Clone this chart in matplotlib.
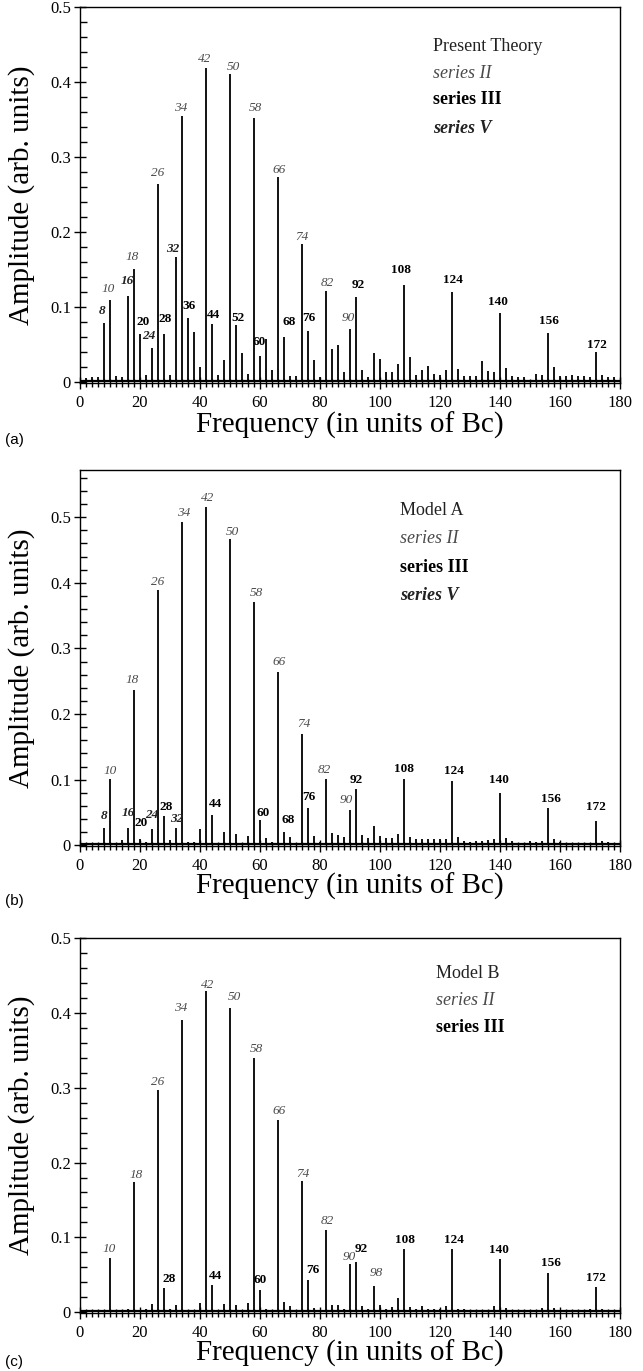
import numpy as np
import matplotlib
matplotlib.use("Agg")
import matplotlib.pyplot as plt
from matplotlib.ticker import MultipleLocator

plt.rcParams['font.family'] = ['Liberation Serif', 'DejaVu Serif']

# ---------------- data ----------------
freqs = list(range(2, 180, 2))

amps_a = [0.006, 0.007, 0.007, 0.079, 0.109, 0.008, 0.007, 0.115, 0.151, 0.064,
          0.009, 0.045, 0.264, 0.064, 0.009, 0.167, 0.355, 0.086, 0.067, 0.020,
          0.419, 0.077, 0.010, 0.029, 0.411, 0.076, 0.039, 0.011, 0.352, 0.035,
          0.057, 0.016, 0.273, 0.060, 0.008, 0.008, 0.184, 0.068, 0.029, 0.007,
          0.121, 0.044, 0.049, 0.013, 0.071, 0.113, 0.016, 0.007, 0.039, 0.031,
          0.013, 0.013, 0.024, 0.130, 0.034, 0.010, 0.016, 0.021, 0.011, 0.009,
          0.016, 0.120, 0.018, 0.008, 0.008, 0.008, 0.028, 0.015, 0.013, 0.092,
          0.019, 0.008, 0.007, 0.007, 0.003, 0.011, 0.009, 0.066, 0.020, 0.008,
          0.008, 0.009, 0.008, 0.008, 0.007, 0.040, 0.009, 0.007, 0.007]

amps_b = [0.003, 0.003, 0.002, 0.026, 0.101, 0.002, 0.008, 0.026, 0.236, 0.009,
          0.005, 0.025, 0.389, 0.045, 0.008, 0.026, 0.492, 0.005, 0.005, 0.025,
          0.516, 0.047, 0.003, 0.020, 0.467, 0.017, 0.003, 0.014, 0.371, 0.039,
          0.011, 0.005, 0.264, 0.021, 0.013, 0.004, 0.169, 0.057, 0.015, 0.005,
          0.101, 0.019, 0.016, 0.012, 0.054, 0.086, 0.016, 0.011, 0.029, 0.015,
          0.011, 0.011, 0.017, 0.101, 0.012, 0.009, 0.010, 0.010, 0.009, 0.009,
          0.010, 0.098, 0.012, 0.007, 0.005, 0.006, 0.007, 0.008, 0.010, 0.080,
          0.011, 0.006, 0.004, 0.004, 0.007, 0.005, 0.007, 0.057, 0.010, 0.005,
          0.004, 0.004, 0.004, 0.004, 0.004, 0.037, 0.007, 0.005, 0.004]

amps_c = [0.002, 0.002, 0.002, 0.002, 0.073, 0.002, 0.002, 0.004, 0.174, 0.002,
          0.004, 0.011, 0.297, 0.033, 0.004, 0.010, 0.391, 0.003, 0.003, 0.013,
          0.429, 0.037, 0.003, 0.011, 0.407, 0.010, 0.003, 0.012, 0.340, 0.030,
          0.004, 0.003, 0.257, 0.014, 0.009, 0.003, 0.175, 0.043, 0.006, 0.003,
          0.110, 0.010, 0.010, 0.005, 0.064, 0.067, 0.009, 0.005, 0.035, 0.010,
          0.005, 0.007, 0.019, 0.084, 0.007, 0.004, 0.009, 0.005, 0.004, 0.005,
          0.009, 0.084, 0.005, 0.004, 0.003, 0.003, 0.003, 0.003, 0.008, 0.071,
          0.006, 0.003, 0.002, 0.002, 0.002, 0.002, 0.006, 0.053, 0.006, 0.002,
          0.002, 0.002, 0.002, 0.002, 0.005, 0.034, 0.004, 0.002, 0.002]

# labelled peaks per series
series2_a = [10, 18, 26, 34, 42, 50, 58, 66, 74, 82, 90]
series3_a = [20, 28, 36, 44, 52, 60, 68, 76, 92, 108, 124, 140, 156, 172]
series5_a = [8, 16, 24, 32]

series2_b = [10, 18, 26, 34, 42, 50, 58, 66, 74, 82, 90]
series3_b = [20, 28, 44, 60, 68, 76, 92, 108, 124, 140, 156, 172]
series5_b = [8, 16, 24, 32]

series2_c = [10, 18, 26, 34, 42, 50, 58, 66, 74, 82, 90, 98]
series3_c = [28, 44, 60, 76, 92, 108, 124, 140, 156, 172]
series5_c = []

legend_a = ["Present Theory", "series II", "series III", "series V"]
legend_b = ["Model A", "series II", "series III", "series V"]
legend_c = ["Model B", "series II", "series III"]

xticks = [0, 20, 40, 60, 80, 100, 120, 140, 160, 180]

# ---------------- layout (label offsets: dx, dy) ----------------
off_a = {8: (-0.6, 0.016), 10: (-0.5, 0.015), 16: (-0.3, 0.020), 18: (-0.5, 0.016),
         20: (0.9, 0.016), 24: (-1.1, 0.017), 26: (-0.2, 0.015), 28: (0.3, 0.020),
         32: (-1.0, 0.011), 34: (-0.5, 0.011), 36: (0.4, 0.015), 42: (-0.4, 0.012),
         44: (0.4, 0.012), 50: (1.3, 0.009), 52: (0.8, 0.009), 58: (0.6, 0.013),
         60: (-0.2, 0.018), 66: (0.2, 0.010), 68: (1.6, 0.020), 74: (0.1, 0.010),
         76: (0.3, 0.018), 82: (0.4, 0.011), 90: (-0.7, 0.015), 92: (0.8, 0.016),
         108: (-1.1, 0.019), 124: (0.2, 0.016), 140: (-0.8, 0.015), 156: (0.3, 0.015),
         172: (0.3, 0.009)}
off_b = {8: (0.1, 0.018), 10: (0.0, 0.013), 16: (0.1, 0.023), 20: (0.5, 0.025),
         24: (0.0, 0.021), 28: (0.6, 0.014), 32: (0.3, 0.014), 18: (-0.5, 0.016),
         26: (0.0, 0.013), 34: (0.6, 0.014), 42: (0.4, 0.014), 50: (0.8, 0.011),
         58: (0.7, 0.013), 66: (0.2, 0.015), 74: (0.5, 0.016), 82: (-0.6, 0.014),
         90: (-1.1, 0.015), 92: (0.1, 0.013), 44: (1.2, 0.016), 60: (1.0, 0.010),
         68: (1.5, 0.018), 76: (0.4, 0.016), 108: (0.0, 0.015), 124: (0.7, 0.016),
         140: (-0.2, 0.019), 156: (0.9, 0.013), 172: (0.1, 0.021)}
off_c = {10: (-0.4, 0.011), 18: (0.7, 0.010), 26: (0.0, 0.010), 34: (-0.3, 0.015),
         42: (0.4, 0.008), 50: (1.4, 0.014), 58: (0.7, 0.012), 66: (0.2, 0.012),
         74: (0.3, 0.010), 82: (0.6, 0.012), 90: (-0.1, 0.010), 92: (1.9, 0.018),
         98: (0.6, 0.018), 28: (1.6, 0.011), 44: (1.2, 0.011), 60: (0.2, 0.013),
         76: (1.6, 0.014), 108: (0.5, 0.012), 124: (0.8, 0.012), 140: (-0.2, 0.012),
         156: (0.9, 0.013), 172: (0.1, 0.012)}

W, H = 643, 1371
fig = plt.figure(figsize=(W / 100, H / 100), dpi=100)

panels = [
    dict(amps=amps_a, s2=series2_a, s3=series3_a, s5=series5_a, off=off_a,
         ytop=0.5, y0=383, y1=7, leg=legend_a, legx=117.7,
         legy=[0.448, 0.412, 0.377, 0.338], tag="(a)", xl_y=425, tag_y=440),
    dict(amps=amps_b, s2=series2_b, s3=series3_b, s5=series5_b, off=off_b,
         ytop=0.572, y0=846, y1=470, leg=legend_b, legx=106.8,
         legy=[0.510, 0.4675, 0.424, 0.380], tag="(b)", xl_y=886, tag_y=901),
    dict(amps=amps_c, s2=series2_c, s3=series3_c, s5=series5_c, off=off_c,
         ytop=0.5, y0=1313, y1=938, leg=legend_c, legx=118.7,
         legy=[0.452, 0.417, 0.381], tag="(c)", xl_y=1353, tag_y=1362),
]

x0px, x1px = 80, 620
gray = '#4a4a4a'
for p in panels:
    ax = fig.add_axes([x0px / W, 1 - p['y0'] / H, (x1px - x0px) / W,
                       (p['y0'] - p['y1']) / H])
    amps = p['amps']
    base = 0.0018
    ax.axhline(base, color='k', lw=1.6, zorder=2)
    ax.vlines(freqs, base, amps, color='k', lw=1.3, zorder=3)
    ax.set_xlim(0, 180)
    ax.set_ylim(-0.001, p['ytop'])
    ax.xaxis.set_major_locator(MultipleLocator(20))
    ax.xaxis.set_minor_locator(MultipleLocator(2))
    ax.yaxis.set_major_locator(MultipleLocator(0.1))
    ax.yaxis.set_minor_locator(MultipleLocator(0.02))
    ax.set_xticks(xticks)
    ax.set_xticklabels([str(t) for t in xticks])
    ax.set_yticks([0, 0.1, 0.2, 0.3, 0.4, 0.5])
    ax.set_yticklabels(['0', '0.1', '0.2', '0.3', '0.4', '0.5'])
    ax.tick_params(axis='x', which='major', direction='inout', length=9, width=1,
                   labelsize=12, pad=4, top=False)
    ax.tick_params(axis='x', which='minor', direction='inout', length=6, width=1, top=False)
    ax.tick_params(axis='y', which='major', direction='inout', length=9, width=1,
                   labelsize=12, pad=2, right=False)
    ax.tick_params(axis='y', which='minor', direction='in', length=5, width=1, right=False)
    for s in ax.spines.values():
        s.set_linewidth(1.0)

    amp_of = dict(zip(freqs, amps))
    for f in p['s2']:
        dx, dy = p['off'][f]
        ax.text(f + dx, amp_of[f] + dy, str(f), ha='center', va='center',
                fontsize=9.5, style='italic', color=gray, zorder=4)
    for f in p['s3']:
        dx, dy = p['off'][f]
        ax.text(f + dx, amp_of[f] + dy, str(f), ha='center', va='center',
                fontsize=9.5, weight='bold', color='k', zorder=4)
    for f in p['s5']:
        dx, dy = p['off'][f]
        ax.text(f + dx, amp_of[f] + dy, str(f), ha='center', va='center',
                fontsize=9.5, weight='bold', style='italic', color='#222222', zorder=4)

    styles = [dict(color='#222222'),
              dict(style='italic', color=gray),
              dict(weight='bold', color='k'),
              dict(weight='bold', style='italic', color='#222222')]
    for txt, yy, st in zip(p['leg'], p['legy'], styles):
        ax.text(p['legx'], yy, txt, ha='left', va='center', fontsize=13, **st)

    yc = 1 - (p['y0'] + p['y1']) / 2 / H
    fig.text(22 / W, yc, "Amplitude (arb. units)", rotation=90, ha='center',
             va='center', fontsize=21)
    fig.text((x0px + x1px) / 2 / W, 1 - p['xl_y'] / H, "Frequency (in units of Bc)",
             ha='center', va='center', fontsize=21)
    fig.text(5 / W, 1 - p['tag_y'] / H, p['tag'], ha='left', va='center',
             fontsize=11, family=['Liberation Sans', 'DejaVu Sans'])

fig.savefig("out.png", dpi=100)
